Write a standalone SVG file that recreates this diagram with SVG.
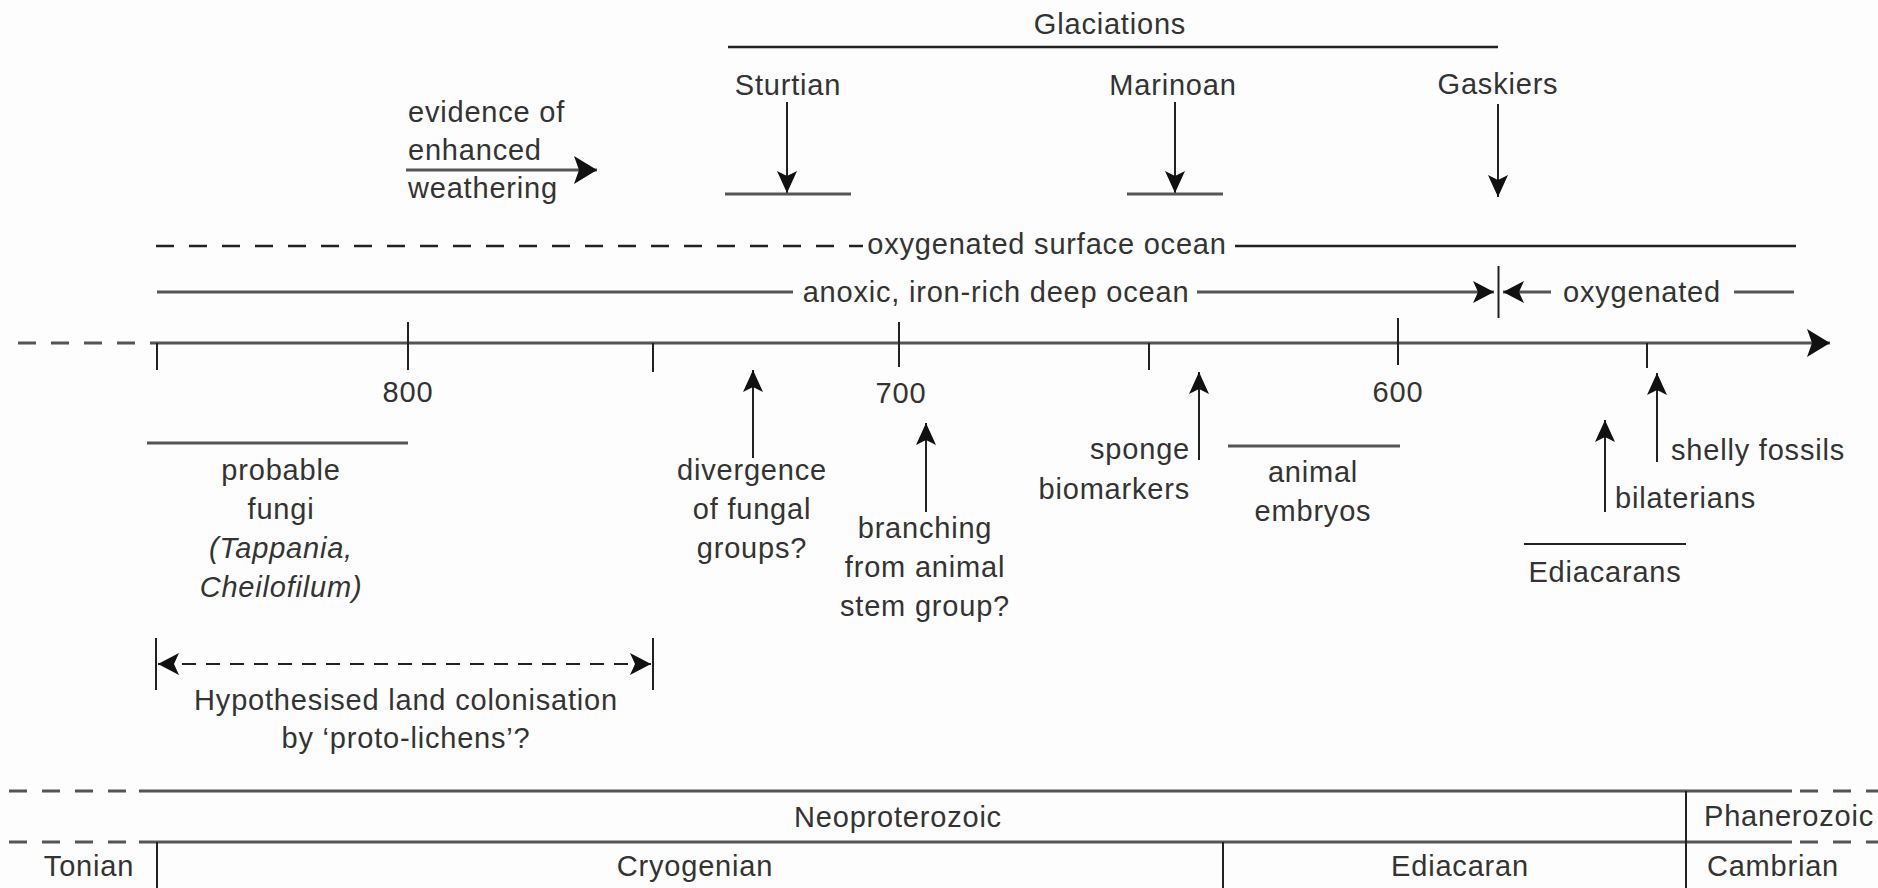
<svg xmlns="http://www.w3.org/2000/svg" width="1878" height="888" viewBox="0 0 1878 888">
<defs>
<style>
text{font-family:"Liberation Sans",Arial,sans-serif;font-size:29px;fill:#333;letter-spacing:0.8px}
.m{text-anchor:middle}
.e{text-anchor:end}
.i{font-style:italic}
.dk{stroke:#222;stroke-width:2.5;fill:none}
.gr{stroke:#555;stroke-width:3.2;fill:none}
.th{stroke:#222;stroke-width:2;fill:none}
.dash{stroke-dasharray:18 15}
</style>
<marker id="ah" markerUnits="userSpaceOnUse" markerWidth="26" markerHeight="24" refX="22" refY="10" orient="auto">
<path d="M0,0 L22,10 L0,20 L5,10 Z" fill="#111"/>
</marker>
<marker id="ahs" markerUnits="userSpaceOnUse" markerWidth="26" markerHeight="24" refX="21" refY="11" orient="auto-start-reverse">
<path d="M0,0 L21,11 L0,22 L5,11 Z" fill="#111"/>
</marker>
<marker id="ahb" markerUnits="userSpaceOnUse" markerWidth="28" markerHeight="32" refX="23" refY="14" orient="auto">
<path d="M0,0 L23,14 L0,28 L5,14 Z" fill="#111"/>
</marker>
</defs>
<rect width="1878" height="888" fill="#fdfdfd"/>

<g id="connectors">
<!-- glaciations -->
<line class="dk" x1="728" y1="47" x2="1498" y2="47"/>
<line class="th" x1="787" y1="102" x2="787" y2="193" marker-end="url(#ah)"/>
<line class="gr" x1="725" y1="194" x2="851" y2="194"/>
<line class="th" x1="1175" y1="102" x2="1175" y2="193" marker-end="url(#ah)"/>
<line class="gr" x1="1127" y1="194" x2="1223" y2="194"/>
<line class="th" x1="1498" y1="104" x2="1498" y2="197" marker-end="url(#ah)"/>
<!-- evidence arrow -->
<line class="gr" x1="406" y1="170" x2="597" y2="170" marker-end="url(#ahb)"/>
<!-- oxygenated surface ocean -->
<line class="dk dash" x1="156" y1="246" x2="863" y2="246"/>
<line class="dk" x1="1235" y1="246" x2="1796" y2="246"/>
<!-- anoxic -->
<line class="gr" x1="157" y1="292" x2="793" y2="292"/>
<line class="gr" x1="1197" y1="292" x2="1494" y2="292" marker-end="url(#ahs)"/>
<line class="th" x1="1498.5" y1="266" x2="1498.5" y2="318"/>
<line class="gr" x1="1551" y1="292" x2="1503" y2="292" marker-end="url(#ahs)"/>
<line class="gr" x1="1734" y1="292" x2="1794" y2="292"/>
<!-- axis -->
<line class="gr dash" x1="18" y1="343" x2="140" y2="343"/>
<line class="gr" x1="150" y1="343" x2="1830" y2="343" marker-end="url(#ahb)"/>
<g class="th">
<line x1="157" y1="343" x2="157" y2="370"/>
<line x1="408" y1="322" x2="408" y2="370"/>
<line x1="653" y1="343" x2="653" y2="372"/>
<line x1="899" y1="322" x2="899" y2="367"/>
<line x1="1149" y1="343" x2="1149" y2="370"/>
<line x1="1398" y1="318" x2="1398" y2="365"/>
<line x1="1647" y1="343" x2="1647" y2="368"/>
</g>
<!-- up arrows -->
<line class="th" x1="753" y1="458" x2="753" y2="370" marker-end="url(#ah)"/>
<line class="th" x1="926" y1="512" x2="926" y2="423" marker-end="url(#ah)"/>
<line class="th" x1="1199" y1="460" x2="1199" y2="372" marker-end="url(#ah)"/>
<line class="th" x1="1657" y1="462" x2="1657" y2="373" marker-end="url(#ah)"/>
<line class="th" x1="1605" y1="512" x2="1605" y2="420" marker-end="url(#ah)"/>
<!-- bars -->
<line class="gr" x1="147" y1="443" x2="408" y2="443"/>
<line class="gr" x1="1228" y1="446" x2="1400" y2="446"/>
<line class="th" x1="1524" y1="544" x2="1686" y2="544"/>
<!-- hypothesised -->
<line class="th" x1="156" y1="638" x2="156" y2="690"/>
<line class="th" x1="653" y1="638" x2="653" y2="690"/>
<line class="th" x1="158" y1="664" x2="651" y2="664" stroke-dasharray="14 10" marker-start="url(#ahs)" marker-end="url(#ahs)"/>
<!-- periods -->
<line class="gr dash" x1="9" y1="791" x2="130" y2="791"/>
<line class="gr" x1="139" y1="791" x2="1792" y2="791"/>
<line class="gr dash" x1="1800" y1="791" x2="1878" y2="791"/>
<line class="gr dash" x1="9" y1="842" x2="130" y2="842"/>
<line class="gr" x1="139" y1="842" x2="1792" y2="842"/>
<line class="gr dash" x1="1800" y1="842" x2="1878" y2="842"/>
<line class="th" x1="1686" y1="791" x2="1686" y2="888"/>
<line class="th" x1="157" y1="842" x2="157" y2="888"/>
<line class="th" x1="1223" y1="842" x2="1223" y2="888"/>
</g>

<g id="glaciations"><text class="m" x="1110" y="34">Glaciations</text></g>
<g id="sturtian"><text class="m" x="788" y="95">Sturtian</text></g>
<g id="marinoan"><text class="m" x="1173" y="95">Marinoan</text></g>
<g id="gaskiers"><text class="m" x="1498" y="94">Gaskiers</text></g>
<g id="weathering"><text x="408" y="122">evidence of</text><text x="408" y="160">enhanced</text><text x="408" y="198">weathering</text></g>
<g id="surface-ocean"><text class="m" x="1047" y="254">oxygenated surface ocean</text></g>
<g id="deep-ocean"><text class="m" x="996" y="302">anoxic, iron-rich deep ocean</text></g>
<g id="oxygenated"><text class="m" x="1642" y="302">oxygenated</text></g>
<g id="ticks"><text class="m" x="408" y="402">800</text><text class="m" x="901" y="403">700</text><text class="m" x="1398" y="402">600</text></g>
<g id="fungi"><text class="m" x="281" y="480">probable</text><text class="m" x="281" y="519">fungi</text><text class="m i" x="281" y="558">(Tappania,</text><text class="m i" x="281" y="597">Cheilofilum)</text></g>
<g id="divergence"><text class="m" x="752" y="480">divergence</text><text class="m" x="752" y="519">of fungal</text><text class="m" x="752" y="558">groups?</text></g>
<g id="branching"><text class="m" x="925" y="538">branching</text><text class="m" x="925" y="577">from animal</text><text class="m" x="925" y="616">stem group?</text></g>
<g id="sponge"><text class="e" x="1190" y="459">sponge</text><text class="e" x="1190" y="499">biomarkers</text></g>
<g id="embryos"><text class="m" x="1313" y="482">animal</text><text class="m" x="1313" y="521">embryos</text></g>
<g id="shelly"><text x="1671" y="460">shelly fossils</text></g>
<g id="bilaterians"><text x="1615" y="508">bilaterians</text></g>
<g id="ediacarans"><text class="m" x="1605" y="582">Ediacarans</text></g>
<g id="colonisation"><text class="m" x="406" y="710">Hypothesised land colonisation</text><text class="m" x="406" y="748">by ‘proto-lichens’?</text></g>
<g id="neoproterozoic"><text class="m" x="898" y="827">Neoproterozoic</text></g>
<g id="phanerozoic"><text class="m" x="1789" y="826">Phanerozoic</text></g>
<g id="tonian"><text class="m" x="89" y="876">Tonian</text></g>
<g id="cryogenian"><text class="m" x="695" y="876">Cryogenian</text></g>
<g id="ediacaran"><text class="m" x="1460" y="876">Ediacaran</text></g>
<g id="cambrian"><text class="m" x="1773" y="876">Cambrian</text></g>
</svg>
